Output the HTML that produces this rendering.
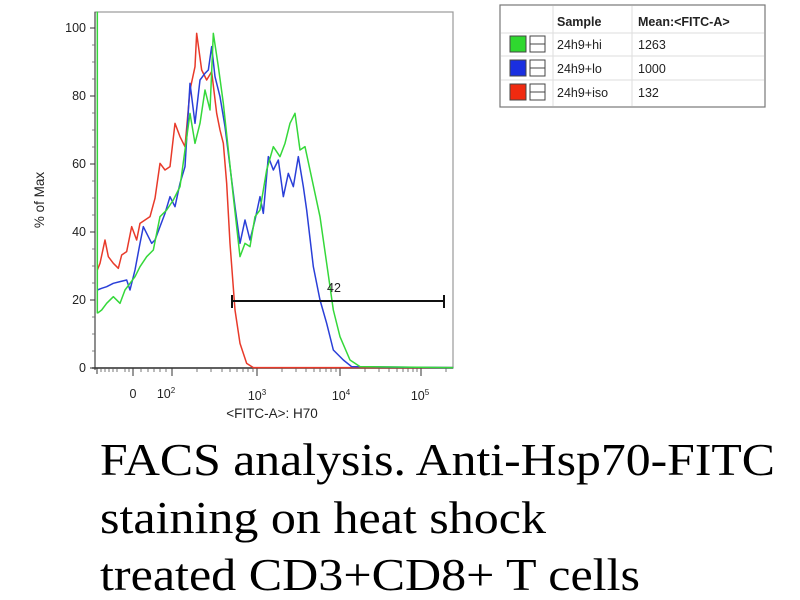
<!DOCTYPE html>
<html><head><meta charset="utf-8"><style>
html,body{margin:0;padding:0;background:#fff;}
svg{display:block;}
text{font-family:"Liberation Sans",sans-serif;}
text.serif{font-family:"Liberation Serif",serif;}
</style></head><body>
<svg width="800" height="600" viewBox="0 0 800 600" xmlns="http://www.w3.org/2000/svg">
<rect x="95" y="12" width="358" height="356" fill="none" stroke="#999" stroke-width="1.2"/>
<line x1="92" y1="368" x2="453" y2="368" stroke="#333" stroke-width="1.5"/>
<line x1="95" y1="12" x2="95" y2="370" stroke="#333" stroke-width="1"/>
<g stroke="#333" stroke-width="1">
<line x1="90" y1="28" x2="95" y2="28"/><line x1="90" y1="96" x2="95" y2="96"/>
<line x1="90" y1="164" x2="95" y2="164"/><line x1="90" y1="232" x2="95" y2="232"/>
<line x1="90" y1="300" x2="95" y2="300"/><line x1="90" y1="368" x2="95" y2="368"/>
</g>
<g stroke="#666" stroke-width="0.8">
<line x1="92" y1="45" x2="95" y2="45"/><line x1="92" y1="62" x2="95" y2="62"/><line x1="92" y1="79" x2="95" y2="79"/>
<line x1="92" y1="113" x2="95" y2="113"/><line x1="92" y1="130" x2="95" y2="130"/><line x1="92" y1="147" x2="95" y2="147"/>
<line x1="92" y1="181" x2="95" y2="181"/><line x1="92" y1="198" x2="95" y2="198"/><line x1="92" y1="215" x2="95" y2="215"/>
<line x1="92" y1="249" x2="95" y2="249"/><line x1="92" y1="266" x2="95" y2="266"/><line x1="92" y1="283" x2="95" y2="283"/>
<line x1="92" y1="317" x2="95" y2="317"/><line x1="92" y1="334" x2="95" y2="334"/><line x1="92" y1="351" x2="95" y2="351"/>
</g>
<g font-size="12.5" fill="#222" text-anchor="end">
<text x="86" y="32">100</text><text x="86" y="100">80</text><text x="86" y="168">60</text>
<text x="86" y="236">40</text><text x="86" y="304">20</text><text x="86" y="372">0</text>
</g>
<text transform="translate(44,200) rotate(-90)" font-size="13.5" fill="#222" text-anchor="middle">% of Max</text>
<g stroke="#333" stroke-width="1">
<line x1="97" y1="368" x2="97" y2="374"/><line x1="133" y1="368" x2="133" y2="376"/><line x1="172" y1="368" x2="172" y2="376"/>
<line x1="257" y1="368" x2="257" y2="376"/><line x1="340" y1="368" x2="340" y2="376"/><line x1="421" y1="368" x2="421" y2="376"/>
</g>
<g stroke="#555" stroke-width="0.8">
<line x1="101" y1="368" x2="101" y2="372"/><line x1="105" y1="368" x2="105" y2="372"/><line x1="109" y1="368" x2="109" y2="372"/><line x1="113" y1="368" x2="113" y2="372"/><line x1="117" y1="368" x2="117" y2="372"/><line x1="125" y1="368" x2="125" y2="372"/><line x1="129" y1="368" x2="129" y2="372"/>
<line x1="141" y1="368" x2="141" y2="372"/><line x1="148" y1="368" x2="148" y2="372"/><line x1="154" y1="368" x2="154" y2="372"/><line x1="160" y1="368" x2="160" y2="372"/><line x1="166" y1="368" x2="166" y2="372"/>
<line x1="197" y1="368" x2="197" y2="372"/><line x1="211" y1="368" x2="211" y2="372"/><line x1="222" y1="368" x2="222" y2="372"/><line x1="230" y1="368" x2="230" y2="372"/><line x1="237" y1="368" x2="237" y2="372"/><line x1="243" y1="368" x2="243" y2="372"/><line x1="248" y1="368" x2="248" y2="372"/><line x1="253" y1="368" x2="253" y2="372"/>
<line x1="282" y1="368" x2="282" y2="372"/><line x1="296" y1="368" x2="296" y2="372"/><line x1="306" y1="368" x2="306" y2="372"/><line x1="314" y1="368" x2="314" y2="372"/><line x1="320" y1="368" x2="320" y2="372"/><line x1="326" y1="368" x2="326" y2="372"/><line x1="331" y1="368" x2="331" y2="372"/><line x1="336" y1="368" x2="336" y2="372"/>
<line x1="365" y1="368" x2="365" y2="372"/><line x1="379" y1="368" x2="379" y2="372"/><line x1="389" y1="368" x2="389" y2="372"/><line x1="397" y1="368" x2="397" y2="372"/><line x1="403" y1="368" x2="403" y2="372"/><line x1="408" y1="368" x2="408" y2="372"/><line x1="413" y1="368" x2="413" y2="372"/><line x1="417" y1="368" x2="417" y2="372"/>
<line x1="446" y1="368" x2="446" y2="372"/>
</g>
<g font-size="12.5" fill="#222" text-anchor="middle">
<text x="133" y="398">0</text>
<text x="166" y="398">10<tspan font-size="8" dy="-5">2</tspan></text>
<text x="257" y="400">10<tspan font-size="8" dy="-5">3</tspan></text>
<text x="341" y="400">10<tspan font-size="8" dy="-5">4</tspan></text>
<text x="420" y="400">10<tspan font-size="8" dy="-5">5</tspan></text>
<text x="272" y="418" font-size="13.5">&lt;FITC-A&gt;: H70</text>
</g>
<g transform="translate(20,10) scale(0.33333)" fill="none" stroke-width="4.5" stroke-linejoin="round">
<polyline stroke="#e83a2a" points="232,780 240,760 255,690 265,740 280,760 295,775 305,735 320,725 335,650 350,690 360,640 375,630 390,620 405,565 420,460 435,480 450,470 465,340 480,380 495,410 510,240 525,170 530,70 545,180 560,210 575,185 590,310 600,360 610,400 620,520 630,700 645,900 660,1000 680,1060 700,1073 1300,1073"/>
<polyline stroke="#2a3fd8" points="232,840 245,835 260,830 280,820 300,815 320,810 330,840 345,780 360,700 370,650 385,680 395,700 405,690 420,650 435,610 450,560 465,590 480,520 495,470 510,220 525,340 540,210 555,190 565,180 575,110 585,200 600,260 615,350 630,470 645,590 660,700 675,630 690,690 705,630 720,560 730,610 745,440 760,480 775,450 790,560 805,490 820,530 835,440 850,530 860,600 880,770 900,870 920,940 940,1020 970,1050 995,1070 1300,1073"/>
<polyline stroke="#35d83a" points="232,910 245,900 260,880 280,860 300,880 315,840 330,820 345,800 360,770 380,740 400,720 420,620 440,600 460,570 480,530 495,420 510,310 525,400 540,340 555,240 570,300 580,70 595,170 610,280 625,420 640,560 660,740 675,700 690,710 705,620 720,600 740,480 760,410 780,440 795,400 810,340 825,310 840,420 855,410 870,480 885,550 900,620 920,760 940,900 960,980 990,1050 1020,1070 1300,1073"/>
<line x1="232" y1="5" x2="232" y2="910" stroke="#35d83a"/>
</g>
<g stroke="#111" stroke-width="2">
<line x1="232" y1="301" x2="444" y2="301"/>
<line x1="232" y1="295" x2="232" y2="308"/><line x1="444" y1="295" x2="444" y2="308"/>
</g>
<text x="327" y="292" font-size="12.5" fill="#222">42</text>
<rect x="500" y="5" width="265" height="102" fill="#fff" stroke="#777" stroke-width="1.2"/>
<g stroke="#ddd" stroke-width="1">
<line x1="553" y1="6" x2="553" y2="106"/><line x1="632" y1="6" x2="632" y2="106"/>
<line x1="501" y1="33" x2="764" y2="33"/><line x1="501" y1="56" x2="764" y2="56"/><line x1="501" y1="80" x2="764" y2="80"/>
</g>
<g stroke="#444" stroke-width="1">
<rect x="510" y="36" width="16" height="16" fill="#2fd82f"/>
<rect x="530" y="36" width="15" height="16" fill="#fff"/><line x1="530" y1="44" x2="545" y2="44"/>
<rect x="510" y="60" width="16" height="16" fill="#1a2fe0"/>
<rect x="530" y="60" width="15" height="16" fill="#fff"/><line x1="530" y1="68" x2="545" y2="68"/>
<rect x="510" y="84" width="16" height="16" fill="#f02a10"/>
<rect x="530" y="84" width="15" height="16" fill="#fff"/><line x1="530" y1="92" x2="545" y2="92"/>
</g>
<g font-size="12.5" fill="#222">
<text x="557" y="26" font-weight="bold">Sample</text>
<text x="638" y="26" font-weight="bold">Mean:&lt;FITC-A&gt;</text>
<text x="557" y="49">24h9+hi</text><text x="638" y="49">1263</text>
<text x="557" y="73">24h9+lo</text><text x="638" y="73">1000</text>
<text x="557" y="97">24h9+iso</text><text x="638" y="97">132</text>
</g>
<g font-size="46" fill="#000">
<text class="serif" x="100" y="475" textLength="675" lengthAdjust="spacingAndGlyphs">FACS analysis. Anti-Hsp70-FITC</text>
<text class="serif" x="100" y="533" textLength="446" lengthAdjust="spacingAndGlyphs">staining on heat shock</text>
<text class="serif" x="100" y="590" textLength="540" lengthAdjust="spacingAndGlyphs">treated CD3+CD8+ T cells</text>
</g>
</svg>
</body></html>
